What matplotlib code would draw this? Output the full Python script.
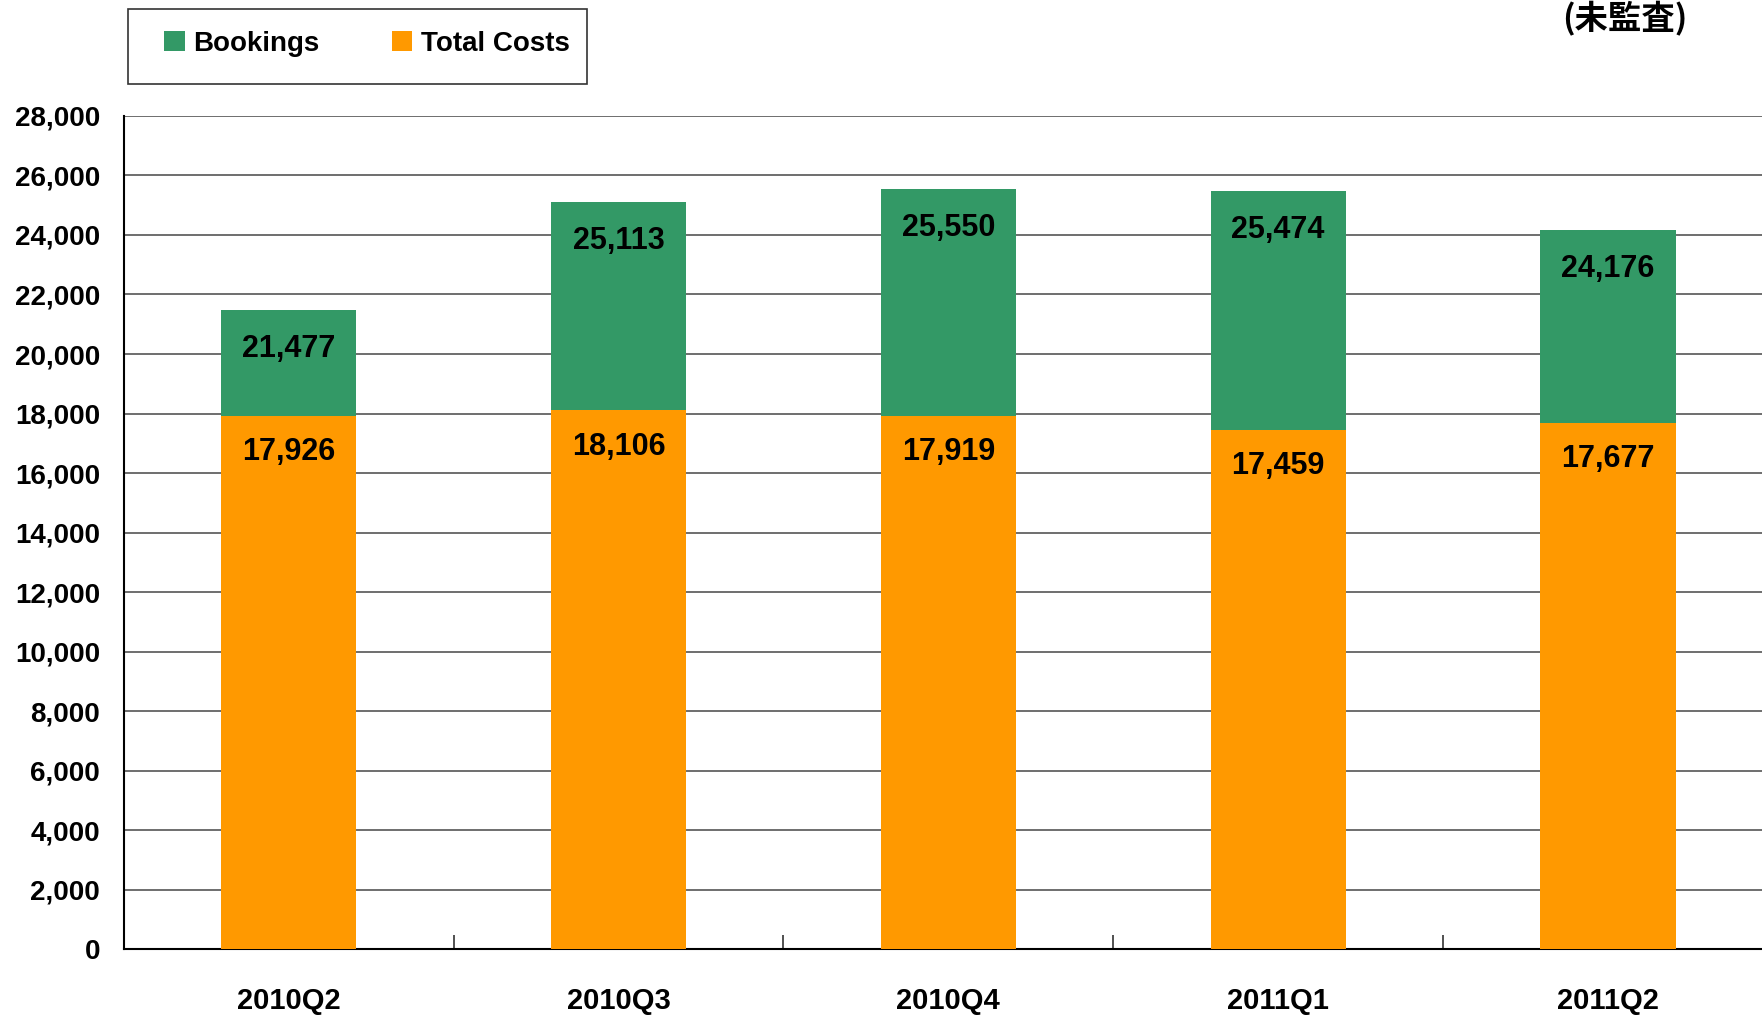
import numpy as np
import matplotlib.pyplot as plt
from matplotlib.patches import Rectangle

plt.rcParams['font.family'] = ['Liberation Sans Narrow', 'Liberation Sans', 'Noto Sans CJK JP', 'DejaVu Sans']
plt.rcParams['font.weight'] = 'bold'

quarters = ["2010Q2", "2010Q3", "2010Q4", "2011Q1", "2011Q2"]
bookings = [21477, 25113, 25550, 25474, 24176]
total_costs = [17926, 18106, 17919, 17459, 17677]

green = "#339966"
orange = "#FF9900"

fig = plt.figure(figsize=(17.62, 10.16), dpi=100)
ax = fig.add_axes([0.0702, 0.0655, 0.9298, 0.8205])

x = np.arange(len(quarters))
w = 0.41
# bars overlap: costs drawn in front of bookings
ax.bar(x, bookings, width=w, color=green, label="Bookings", zorder=2)
ax.bar(x, total_costs, width=w, color=orange, label="Total Costs", zorder=3)

for xi, b, c in zip(x, bookings, total_costs):
    ax.annotate(f"{b:,}", (xi, b), xytext=(0, -28), textcoords="offset points",
                ha="center", va="center", fontsize=22, fontweight="bold", zorder=4)
    ax.annotate(f"{c:,}", (xi, c), xytext=(0, -26), textcoords="offset points",
                ha="center", va="center", fontsize=22, fontweight="bold", zorder=4)

ax.set_ylim(0, 28000)
ax.set_xlim(-0.5, 4.467)
ax.set_yticks(np.arange(0, 28001, 2000))
ax.set_yticklabels([f"{v:,}" for v in range(0, 28001, 2000)], fontsize=20, fontweight="bold")
ax.yaxis.grid(True, color="#555555", lw=1.2, zorder=1)
ax.tick_params(axis="y", length=0, pad=17)

ax.set_xticks(x)
ax.set_xticklabels(quarters, fontsize=21, fontweight="bold")
ax.set_xticks(np.arange(0.5, 4.0, 1), minor=True)
ax.tick_params(axis="x", which="major", length=0, pad=27)
ax.tick_params(axis="x", which="minor", direction="in", length=10, width=1.2, color="#333333")

for s in ["top", "right"]:
    ax.spines[s].set_visible(False)
ax.spines["left"].set_linewidth(1.5)
ax.spines["bottom"].set_linewidth(1.5)

# legend frame drawn separately, legend itself frameless
fig.patches.append(Rectangle((128 / 1762, 1 - 84 / 1016), 459 / 1762, 75 / 1016,
                             transform=fig.transFigure, fill=False,
                             edgecolor="#333333", lw=1.2))
fig.legend(loc="center left", bbox_to_anchor=(164 / 1762, 1 - 44 / 1016), ncol=2,
           fontsize=20, frameon=False, handlelength=0.75, handleheight=0.75,
           handletextpad=0.3, columnspacing=2.6, borderpad=0, borderaxespad=0)

fig.text(0.922, 0.999, "(未監査)", ha="center", va="top", fontsize=24, fontweight="bold",
         family=['Noto Sans CJK JP', 'DejaVu Sans'])

fig.savefig("out.png", dpi=100)
